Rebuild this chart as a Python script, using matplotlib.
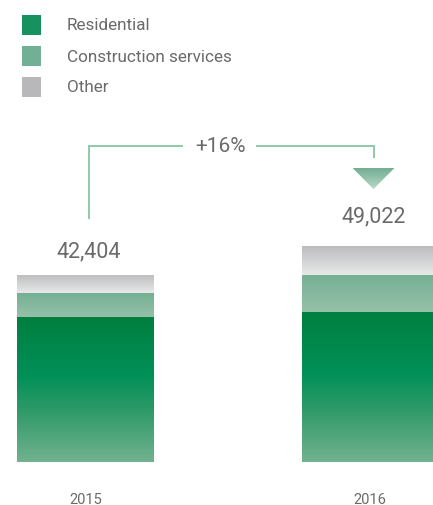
import matplotlib
matplotlib.use("Agg")
import matplotlib.pyplot as plt
import numpy as np
from matplotlib.colors import LinearSegmentedColormap
from matplotlib.patches import Polygon, Rectangle

years = ["2015", "2016"]
residential = [32880, 34050]
construction = [5375, 8400]
other = [4149, 6572]
totals = [42404, 49022]
series_names = ["Residential", "Construction services", "Other"]
growth_label = "+16%"

FONT = ["Roboto", "DejaVu Sans"]
plt.rcParams["font.family"] = FONT
TXT = "#6a6a6a"

W, H = 433, 506
fig = plt.figure(figsize=(W / 100, H / 100), dpi=100)

base_px = 462.7
ax = fig.add_axes([0, (H - base_px) / H, 1, base_px / H])
c0, c1 = 85.5, 370.0
unit = c1 - c0
XL = (-c0 / unit, (W - c0) / unit)
px_per_val = 1 / 227.0
YL = (0, base_px / px_per_val)
ax.set_xlim(*XL)
ax.set_ylim(*YL)
ax.axis("off")

x = np.arange(len(years))
width = 137 / unit

cm_res = LinearSegmentedColormap.from_list("res", [(0, "#72b28e"), (0.35, "#2f9a68"), (0.6, "#009058"), (1, "#007f3f")])
cm_con = LinearSegmentedColormap.from_list("con", [(0, "#95c1a9"), (1, "#76b094")])
cm_oth = LinearSegmentedColormap.from_list("oth", [(0, "#e8e9e9"), (1, "#bcbcbe")])

grad = np.linspace(0, 1, 256).reshape(-1, 1)
bottoms = np.zeros(len(years))
for vals, cm in [(residential, cm_res), (construction, cm_con), (other, cm_oth)]:
    bars = ax.bar(x, vals, width=width, bottom=bottoms, color="none", edgecolor="none")
    for b in bars:
        bx, by = b.get_x(), b.get_y()
        bw, bh = b.get_width(), b.get_height()
        im = ax.imshow(grad, extent=[bx, bx + bw, by, by + bh], origin="lower",
                       cmap=cm, aspect="auto", interpolation="bicubic", zorder=1)
        im.set_clip_path(b)
    bottoms += np.array(vals)

ax.set_xlim(*XL)
ax.set_ylim(*YL)

def py(p):
    return (base_px - p) / px_per_val

shift = 3.5 / unit  # labels / bracket sit slightly right of bar centre

# value labels
offsets_px = [24, 30]
for xi, t, off in zip(x, totals, offsets_px):
    ax.text(xi + shift, t + off / px_per_val, f"{t:,}", ha="center", va="center",
            fontsize=15.5, color=TXT)

# year labels
for xi, yr in zip(x, years):
    ax.text(xi, -37 / px_per_val, yr, ha="center", va="center", fontsize=10.5,
            color=TXT, clip_on=False)

# bracket
LC = "#8fcaa9"
txt_x = (220 - c0) / unit
gap_l = (183 - c0) / unit
gap_r = (256 - c0) / unit
ax.plot([x[0] + shift, x[0] + shift, gap_l], [py(220), py(146.7), py(146.7)], color=LC, lw=1.4,
        solid_capstyle="butt", solid_joinstyle="miter")
ax.plot([gap_r, x[1] + shift, x[1] + shift], [py(146.7), py(146.7), py(159)], color=LC, lw=1.4,
        solid_capstyle="butt", solid_joinstyle="miter")
ax.text(txt_x, py(147), growth_label, ha="center", va="center", fontsize=15, color=TXT)

# triangle with gradient
hw = 21 / unit
tc = x[1] + shift
tri = Polygon([[tc - hw, py(169)], [tc + hw, py(169)], [tc, py(190)]],
              closed=True, facecolor="none", edgecolor="none")
ax.add_patch(tri)
cm_tri = LinearSegmentedColormap.from_list("tri", [(0, "#b6d8c6"), (1, "#73ae93")])
im = ax.imshow(grad, extent=[tc - hw, tc + hw, py(190), py(169)], origin="lower",
               cmap=cm_tri, aspect="auto", interpolation="bicubic")
im.set_clip_path(tri)
ax.set_xlim(*XL)
ax.set_ylim(*YL)

# legend
leg_colors = ["#16925f", "#72b096", "#b8b8ba"]
for i, (name, col) in enumerate(zip(series_names, leg_colors)):
    yc = 26 + i * 31
    fig.patches.append(Rectangle((22 / W, (H - yc - 10) / H), 19 / W, 20 / H,
                                 transform=fig.transFigure, facecolor=col, edgecolor="none"))
    fig.text(67 / W, (H - yc) / H, name, ha="left", va="center", fontsize=12.3, color=TXT)

fig.savefig("out.png", dpi=100)
